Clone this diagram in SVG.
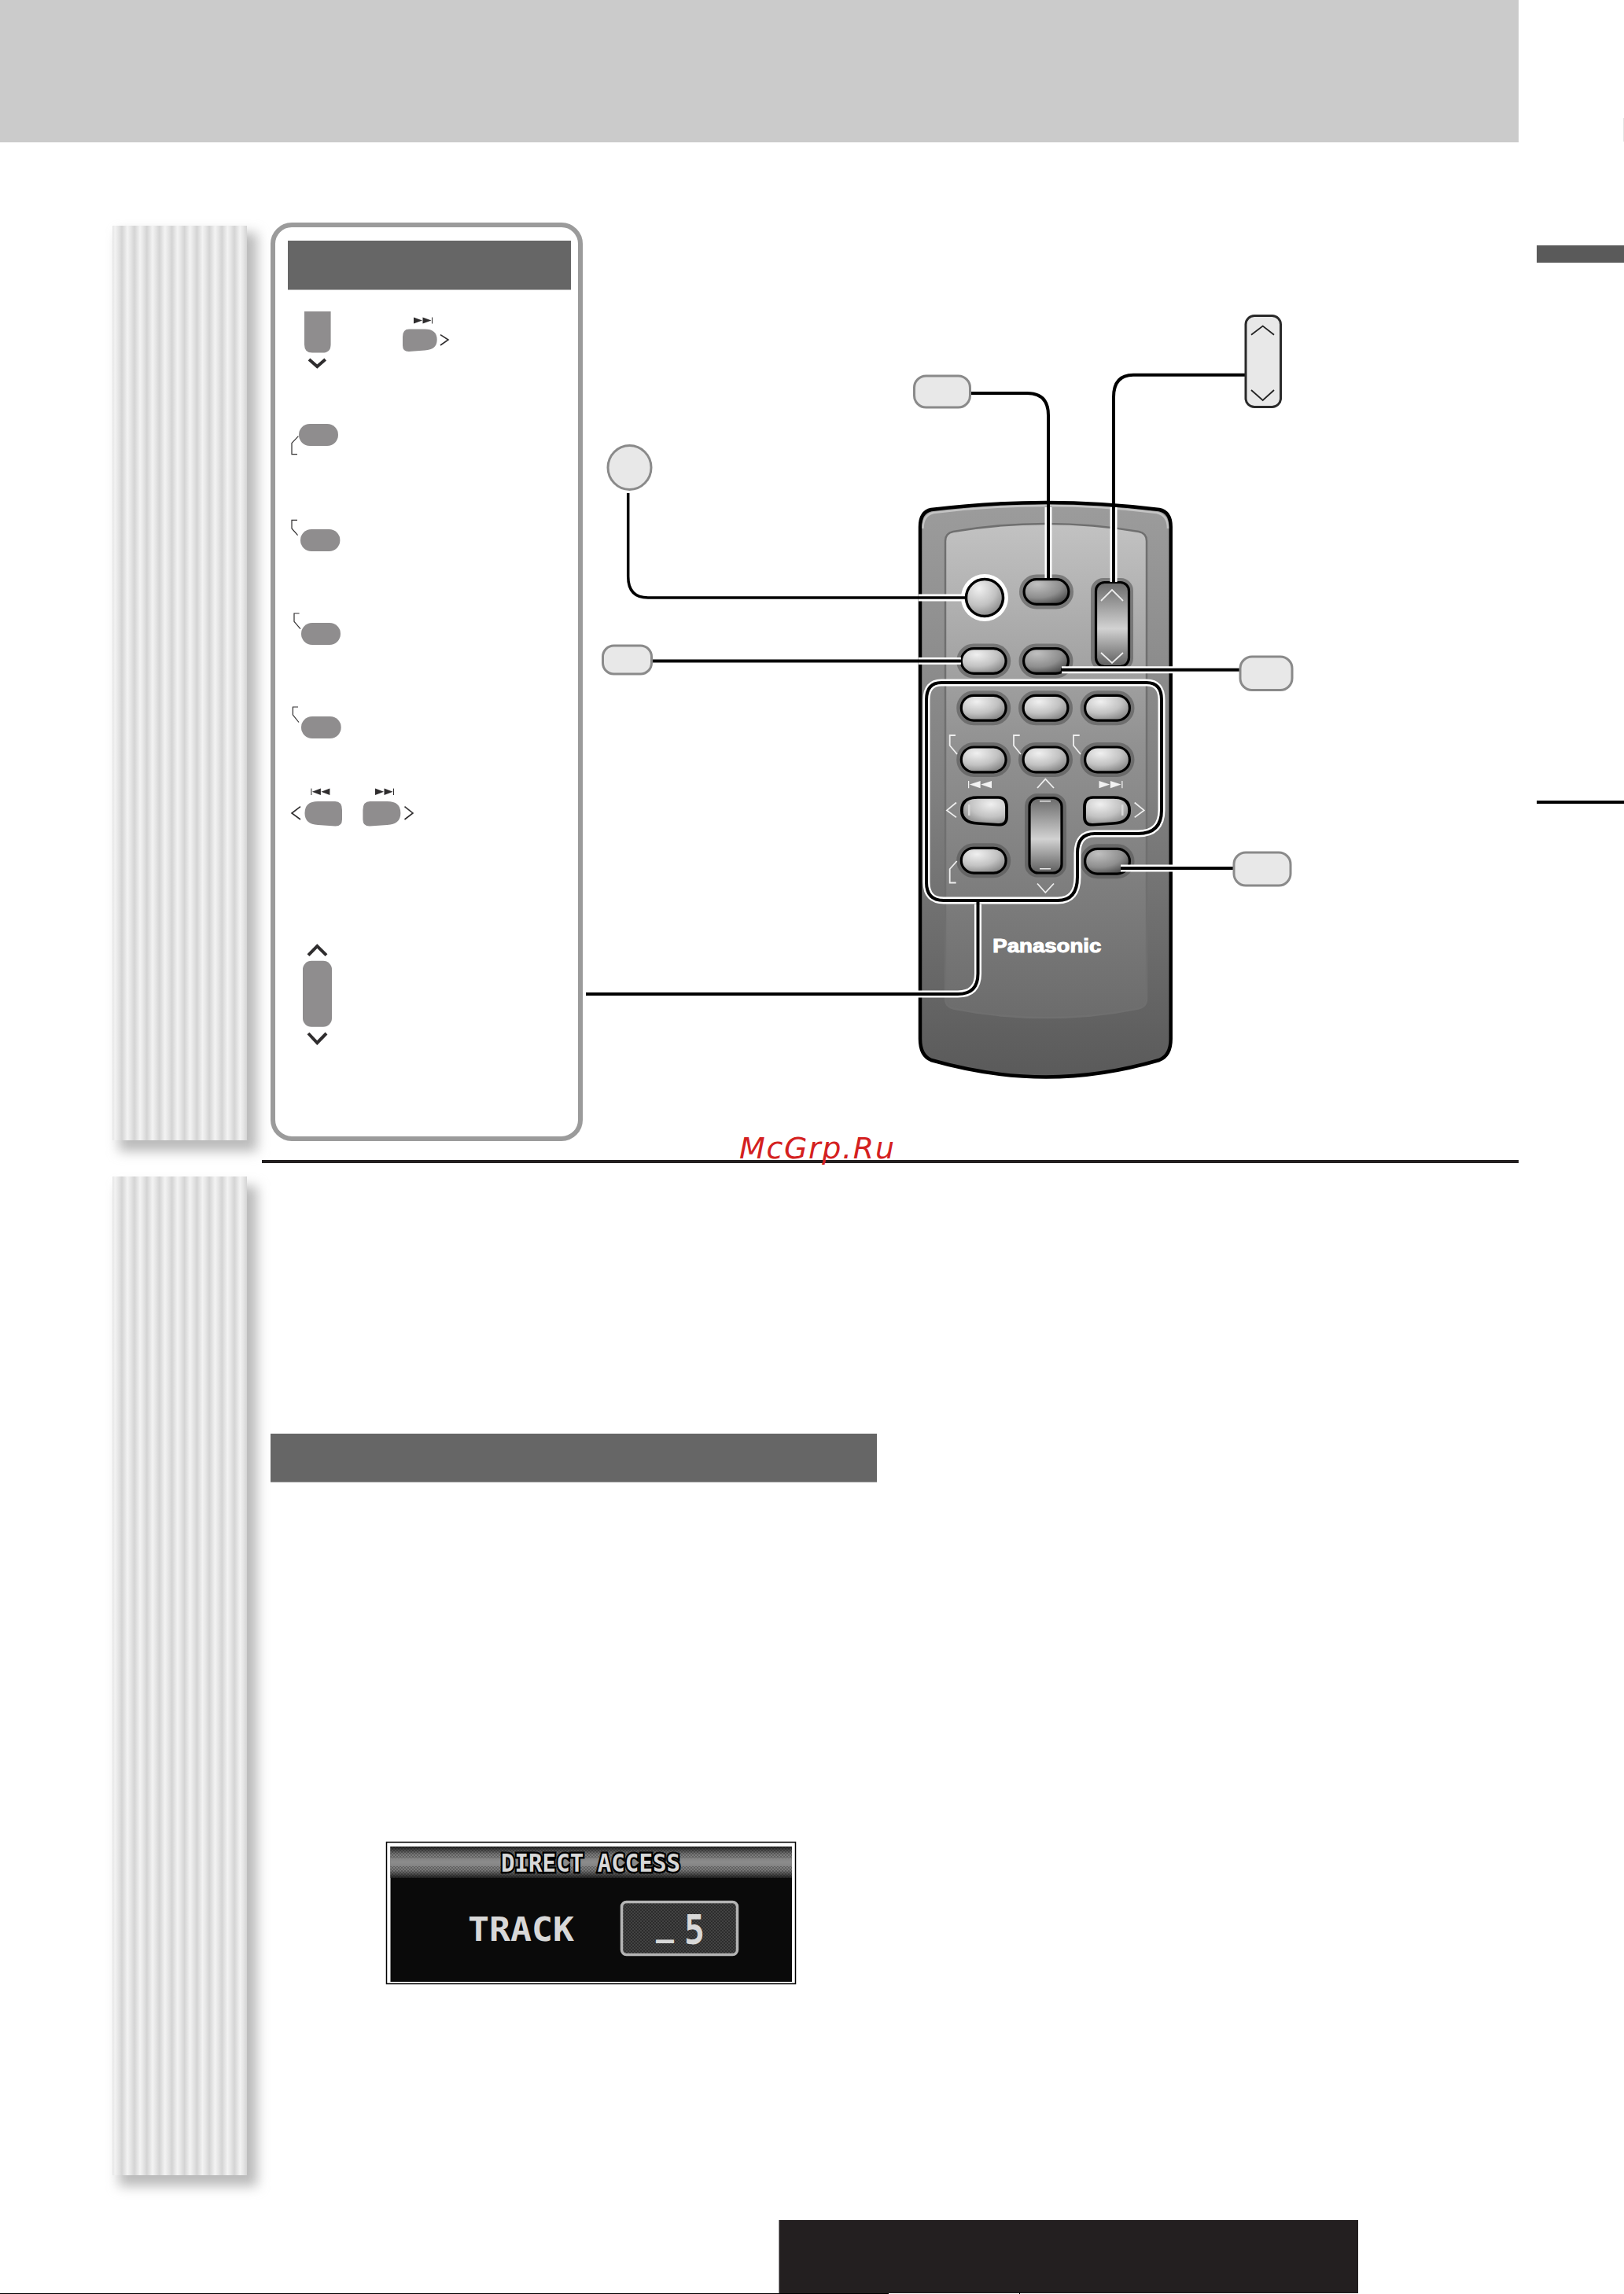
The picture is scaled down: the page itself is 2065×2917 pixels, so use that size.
<svg xmlns="http://www.w3.org/2000/svg" xmlns:xlink="http://www.w3.org/1999/xlink" width="2065" height="2917" viewBox="0 0 2065 2917">
<style>
.bar{fill:#666}
.pb{fill:#8f8d8e}
.ch{fill:none;stroke:#2f2d2e;stroke-width:4}
.cht{fill:none;stroke:#2f2d2e;stroke-width:1.6}
.brk{fill:none;stroke:#2f2d2e;stroke-width:1.2}
.wl{fill:none;stroke:#eee;stroke-width:1.8}
.co{fill:#e8e8e8;stroke:#8a8a8a;stroke-width:3}
.halo{fill:none;stroke:#fff;stroke-width:9}
.line{fill:none;stroke:#000;stroke-width:4}
.b{stroke:#000;stroke-width:3.2;fill:url(#btn)}
.d{stroke:#000;stroke-width:3.2;fill:url(#btnD)}
.h{fill:none;stroke:#555;stroke-width:7;opacity:.6}
.lcd{font-family:"DejaVu Sans Mono","Liberation Mono",monospace;font-weight:bold;fill:#d8d8d8}
</style>
<defs>
<linearGradient id="st" gradientUnits="userSpaceOnUse" x1="155" y1="0" x2="170.9" y2="0" spreadMethod="repeat">
<stop offset="0" stop-color="#d4d4d4"/><stop offset=".45" stop-color="#f3f3f3"/><stop offset=".7" stop-color="#e6e6e6"/><stop offset="1" stop-color="#d4d4d4"/>
</linearGradient>
<linearGradient id="body" x1="0" y1="0" x2="0" y2="1"><stop offset="0" stop-color="#9c9c9c"/><stop offset=".5" stop-color="#808080"/><stop offset="1" stop-color="#5a5a5a"/></linearGradient>
<linearGradient id="face" x1="0" y1="0" x2="0" y2="1"><stop offset="0" stop-color="#c2c2c2"/><stop offset=".45" stop-color="#919191"/><stop offset="1" stop-color="#6c6c6c"/></linearGradient>
<radialGradient id="btn" cx=".35" cy=".25" r=".85"><stop offset="0" stop-color="#f0f0f0"/><stop offset=".55" stop-color="#c2c2c2"/><stop offset="1" stop-color="#7d7d7d"/></radialGradient>
<radialGradient id="btnD" cx=".3" cy=".2" r=".9"><stop offset="0" stop-color="#c0c0c0"/><stop offset=".6" stop-color="#8e8e8e"/><stop offset="1" stop-color="#444"/></radialGradient>
<linearGradient id="rock" x1="0" y1="0" x2="0" y2="1"><stop offset="0" stop-color="#6a6a6a"/><stop offset=".55" stop-color="#d2d2d2"/><stop offset="1" stop-color="#5c5c5c"/></linearGradient>
<linearGradient id="band" x1="0" y1="0" x2="0" y2="1"><stop offset="0" stop-color="#222"/><stop offset=".25" stop-color="#7a7a7a"/><stop offset=".5" stop-color="#8c8c8c"/><stop offset=".75" stop-color="#7a7a7a"/><stop offset="1" stop-color="#222"/></linearGradient>
<pattern id="dots" width="4" height="4" patternUnits="userSpaceOnUse"><rect width="4" height="4" fill="#2c2c2c"/><circle cx="1" cy="1" r="1" fill="#4a4a4a"/><circle cx="3" cy="3" r="1" fill="#4a4a4a"/></pattern>
<pattern id="grain" width="4" height="4" patternUnits="userSpaceOnUse"><circle cx="1" cy="1" r=".9" fill="#000" opacity=".35"/><circle cx="3" cy="3" r=".9" fill="#000" opacity=".35"/></pattern>
<filter id="blur" x="-25%" y="-5%" width="150%" height="110%"><feGaussianBlur stdDeviation="7.5"/></filter>
<path id="nx" d="M9 0H31Q48 0 48 15Q48 29 31 30L9 31.6Q0 32 0 23V11Q0 0 9 0Z"/>
<g id="sk"><polygon points="0,0 11,4 0,8"/><polygon points="11.5,0 22.5,4 11.500,8"/><rect x="23" y="0" width="1" height="8"/></g>
<g id="pill"><rect x="-1" y="-1" width="62" height="37" rx="18.500" class="h"/><rect x="1.6" y="1.6" width="56.800" height="31.800" rx="15.900" class="b"/></g>
<g id="pillD"><rect x="-1" y="-1" width="62" height="37" rx="18.500" class="h"/><rect x="1.6" y="1.6" width="56.800" height="31.800" rx="15.900" class="d"/></g>
</defs>

<g id="header"><rect x="0" y="0" width="1931" height="181" fill="#cbcbcb"/><rect x="2064" y="150" width="1" height="30" fill="#e4e4e4"/></g>
<g id="side-tab"><rect x="1954" y="312" width="111" height="22" fill="#5a5a5a"/><rect x="1954" y="1018" width="111" height="4" fill="#000"/></g>

<g id="strip-1"><rect x="151" y="296" width="176" height="1168" fill="#bababa" filter="url(#blur)"/><rect x="143" y="287" width="171" height="1163" fill="url(#st)"/></g>
<g id="strip-2"><rect x="151" y="1508" width="176" height="1272" fill="#bababa" filter="url(#blur)"/><rect x="143" y="1496" width="171" height="1270" fill="url(#st)"/></g>

<g id="key-panel">
<rect x="347" y="286" width="391" height="1162" rx="24" fill="#fff" stroke="#9b9b9b" stroke-width="6"/>
<rect x="366" y="306" width="360" height="62.500" class="bar"/>
</g>
<g id="key-down"><path class="pb" d="M387 396H420.600V438Q420.600 448.600 410 448.600H397Q387 448.600 387 438Z"/><polyline class="ch" points="393,457 403.300,466 413.700,457"/></g>
<g id="key-next-top"><use href="#nx" class="pb" transform="translate(512 418.500) scale(.91 .9)"/><polyline class="cht" points="560,425.600 570,432 560,439"/><use href="#sk" fill="#2f2d2e" transform="translate(526 403.500)"/></g>
<g id="key-c"><rect x="380" y="539" width="50" height="28" rx="14" class="pb"/><polyline class="brk" points="379.400,554.700 371,563.400 371,577.600 378,577.600"/></g>
<g id="key-d"><rect x="382" y="673" width="50.400" height="28" rx="14" class="pb"/><polyline class="brk" points="378,661.300 371,661.300 371,672 378.600,680.700"/></g>
<g id="key-e"><rect x="383" y="792" width="50" height="28" rx="14" class="pb"/><polyline class="brk" points="380.600,780 374,780 374,790.400 382,799.600"/></g>
<g id="key-f"><rect x="383" y="911" width="50.700" height="28" rx="14" class="pb"/><polyline class="brk" points="379,899 372.400,899 372.400,909 380,918.500"/></g>
<g id="key-prev"><use href="#nx" class="pb" transform="translate(435 1019) scale(-.99 1)"/><polyline class="cht" points="382,1025.600 371,1034 382,1042"/><use href="#sk" fill="#2f2d2e" transform="translate(419.400 1002.600) scale(-1 1.050)"/></g>
<g id="key-next"><use href="#nx" class="pb" transform="translate(461.400 1019)"/><polyline class="cht" points="514.500,1025.600 525,1034 514.500,1042"/><use href="#sk" fill="#2f2d2e" transform="translate(477 1002.600) scale(1 1.050)"/></g>
<g id="key-tall"><polyline class="ch" points="392,1214.700 403.300,1203 415,1214.700"/><rect x="385" y="1221.700" width="37" height="84" rx="11" class="pb"/><polyline class="ch" points="392,1314 403.300,1326 415,1314"/></g>

<g id="remote">
<path d="M1170 670Q1170 651 1184 648Q1260 639 1330 639Q1400 639 1474 648Q1488.700 651 1488.700 670V1321Q1488.700 1342 1474 1348Q1400 1369.500 1330 1369.500Q1260 1369.500 1184 1348Q1170 1342 1170 1321Z" fill="url(#body)" stroke="#000" stroke-width="4.500"/>
<path d="M1173.500 672Q1173.500 655 1187 652Q1260 643 1330 643Q1400 643 1471 652Q1485 655 1485 672" fill="none" stroke="#c4c4c4" stroke-width="2.500"/>
<path d="M1202 688Q1202 678 1212 676Q1270 666 1330 666Q1390 666 1448 676Q1458 678 1458 688V1270Q1458 1281 1445 1283Q1390 1294 1330 1294Q1270 1294 1215 1283Q1202 1281 1202 1270Z" fill="url(#face)" stroke="#6f6f6f" stroke-width="2.500"/>
<circle cx="1252" cy="760" r="30" fill="#fff"/><circle cx="1252" cy="760" r="23.500" fill="url(#btn)" stroke="#000" stroke-width="3.500"/>
<use href="#pillD" x="1300.500" y="735"/>
<rect x="1390" y="738" width="48" height="112" rx="13" fill="none" stroke="#555" stroke-width="6" opacity=".6"/>
<rect x="1393.500" y="740.500" width="42" height="107" rx="11" fill="url(#rock)" stroke="#000" stroke-width="3.200"/>
<polyline class="wl" points="1400,764 1414,750 1428,764"/><polyline class="wl" points="1400,830 1414,843 1428,830"/>
<use href="#pill" x="1220.700" y="823"/>
<use href="#pillD" x="1300" y="823"/>
<use href="#pill" x="1220.700" y="882.700"/>
<use href="#pill" x="1299.500" y="882.700"/>
<use href="#pill" x="1378" y="882.700"/>
<use href="#pill" x="1220.700" y="948.400"/>
<use href="#pill" x="1299.500" y="948.400"/>
<use href="#pill" x="1378" y="948.400"/>
<polyline class="wl" points="1215,935 1207.700,935 1207.700,948 1217,959"/>
<polyline class="wl" points="1296.700,935 1289,935 1289,948 1298,959"/>
<polyline class="wl" points="1372.700,935 1365,935 1365,948 1374,959"/>
<use href="#nx" class="b" transform="translate(1280 1014) scale(-1.190 1.100)"/>
<use href="#nx" class="b" transform="translate(1379 1014) scale(1.190 1.100)"/>
<rect x="1231" y="1023" width="2.500" height="14" fill="#d8d8d8"/><rect x="1426" y="1023" width="2.500" height="14" fill="#d8d8d8"/>
<polyline class="wl" points="1216,1020.500 1204,1030.400 1216,1039.400"/><polyline class="wl" points="1442.700,1020.500 1454.700,1030.400 1442.700,1039.400"/>
<use href="#sk" fill="#f2f2f2" transform="translate(1261 993) scale(-1.250 1.150)"/>
<use href="#sk" fill="#f2f2f2" transform="translate(1397.500 993) scale(1.250 1.150)"/>
<rect x="1306" y="1012" width="47" height="100.500" rx="13" fill="none" stroke="#555" stroke-width="6" opacity=".6"/>
<rect x="1309" y="1014.500" width="41" height="95.500" rx="11" fill="url(#rock)" stroke="#000" stroke-width="3.200"/>
<rect x="1322" y="1018" width="14" height="1.500" fill="#e8e8e8"/><rect x="1322" y="1104" width="14" height="1.500" fill="#e8e8e8"/>
<polyline class="wl" points="1319,1002 1329.300,990.600 1340,1002"/><polyline class="wl" points="1319,1123.500 1329.300,1135 1340,1123.500"/>
<use href="#pill" x="1220.700" y="1076.700"/>
<polyline class="wl" points="1216.700,1095 1207.700,1105 1207.700,1122.500 1215.700,1122.500"/>
<use href="#pillD" x="1378" y="1077.700"/>
<text x="1262.300" y="1211" font-family="'Liberation Sans',Arial,sans-serif" font-weight="bold" font-size="23" fill="#fff" stroke="#fff" stroke-width="1" textLength="138" lengthAdjust="spacingAndGlyphs">Panasonic</text>
</g>

<g id="connectors">
<path class="halo" d="M1197 868H1458Q1477 868 1477 890V1030Q1477 1060 1447 1060H1392Q1370 1060 1370 1085V1115Q1370 1145 1345 1145H1200Q1178 1145 1178 1122V890Q1178 868 1197 868Z"/>
<path class="halo" d="M1243.500 1150V1238Q1243.500 1264 1218 1264H745"/>
<path class="line" d="M1197 868H1458Q1477 868 1477 890V1030Q1477 1060 1447 1060H1392Q1370 1060 1370 1085V1115Q1370 1145 1345 1145H1200Q1178 1145 1178 1122V890Q1178 868 1197 868Z"/>
<path class="line" d="M1243.500 1146V1238Q1243.500 1264 1218 1264H745"/>
<path class="halo" d="M1333 645V735"/><path class="line" d="M1234 500H1306Q1333 500 1333 528V736"/>
<path class="halo" d="M1416 645V740"/><path class="line" d="M1583 476.800H1441Q1416 476.800 1416 505V741"/>
<path class="halo" d="M1168 760H1226"/><path class="line" style="stroke-width:3.500" d="M798.700 627V733Q798.700 760 824 760H1227"/>
<path class="halo" d="M1168 840.600H1222"/><path class="line" d="M830 840.600H1222"/>
<path class="halo" d="M1350 851.700H1492"/><path class="line" d="M1349 851.700H1576"/>
<path class="halo" d="M1425 1104H1492"/><path class="line" d="M1425 1104H1568"/>
</g>

<g id="callout-power"><ellipse cx="800.500" cy="594.500" rx="27.500" ry="28" class="co"/></g>
<g id="callout-top"><rect x="1162.500" y="478" width="71" height="40" rx="15" class="co"/></g>
<g id="callout-rocker"><rect x="1584" y="401.500" width="44.500" height="116" rx="11" fill="#e8e8e8" stroke="#2a2a2a" stroke-width="3"/><polyline fill="none" stroke="#222" stroke-width="1.800" points="1591,425.700 1605.700,414.600 1620,425.700"/><polyline fill="none" stroke="#222" stroke-width="1.800" points="1591,496 1605.700,509 1620,496"/></g>
<g id="callout-left"><rect x="766.500" y="821" width="62" height="36" rx="14" class="co"/></g>
<g id="callout-right"><rect x="1577" y="835" width="66" height="42.500" rx="15" class="co"/></g>
<g id="callout-lower"><rect x="1569" y="1084" width="72" height="42" rx="15" class="co"/></g>

<g id="rule"><rect x="333" y="1475" width="1598" height="4" fill="#231f20"/></g>
<text id="watermark" x="940" y="1472.500" font-family="'DejaVu Sans',sans-serif" font-style="italic" font-size="38" fill="#d42020" textLength="197">McGrp.Ru</text>
<g id="section-bar"><rect x="344" y="1823" width="771" height="61.700" class="bar"/></g>

<g id="display">
<rect x="491.500" y="2342.500" width="520" height="180" fill="#fff" stroke="#000" stroke-width="1.500"/>
<rect x="496.500" y="2348" width="510.500" height="172" fill="#0a0a0a"/>
<rect x="496.500" y="2348" width="510.500" height="40" fill="url(#band)"/>
<rect x="496.500" y="2348" width="510.500" height="15" fill="url(#grain)"/>
<rect x="496.500" y="2373" width="510.500" height="15" fill="url(#grain)"/>
<text class="lcd" x="637" y="2380" font-size="32" stroke="#000" stroke-width="5" paint-order="stroke" textLength="228" lengthAdjust="spacingAndGlyphs">DIRECT ACCESS</text>
<text class="lcd" x="595" y="2468" font-size="43" textLength="135" lengthAdjust="spacingAndGlyphs">TRACK</text>
<rect x="790.500" y="2418.500" width="147" height="67" rx="6" fill="url(#dots)" stroke="#b4b4b4" stroke-width="3.500"/>
<text class="lcd" x="834" y="2460" font-size="48" textLength="23" lengthAdjust="spacingAndGlyphs">_</text>
<text class="lcd" x="870" y="2472" font-size="52" textLength="26" lengthAdjust="spacingAndGlyphs">5</text>
</g>

<g id="footer">
<rect x="990.500" y="2823" width="736.500" height="93" fill="#231f20"/>
<rect x="0" y="2916" width="1130" height="1" fill="#000"/>
<rect x="1296" y="2915" width="1" height="2" fill="#000"/>
</g>
</svg>
